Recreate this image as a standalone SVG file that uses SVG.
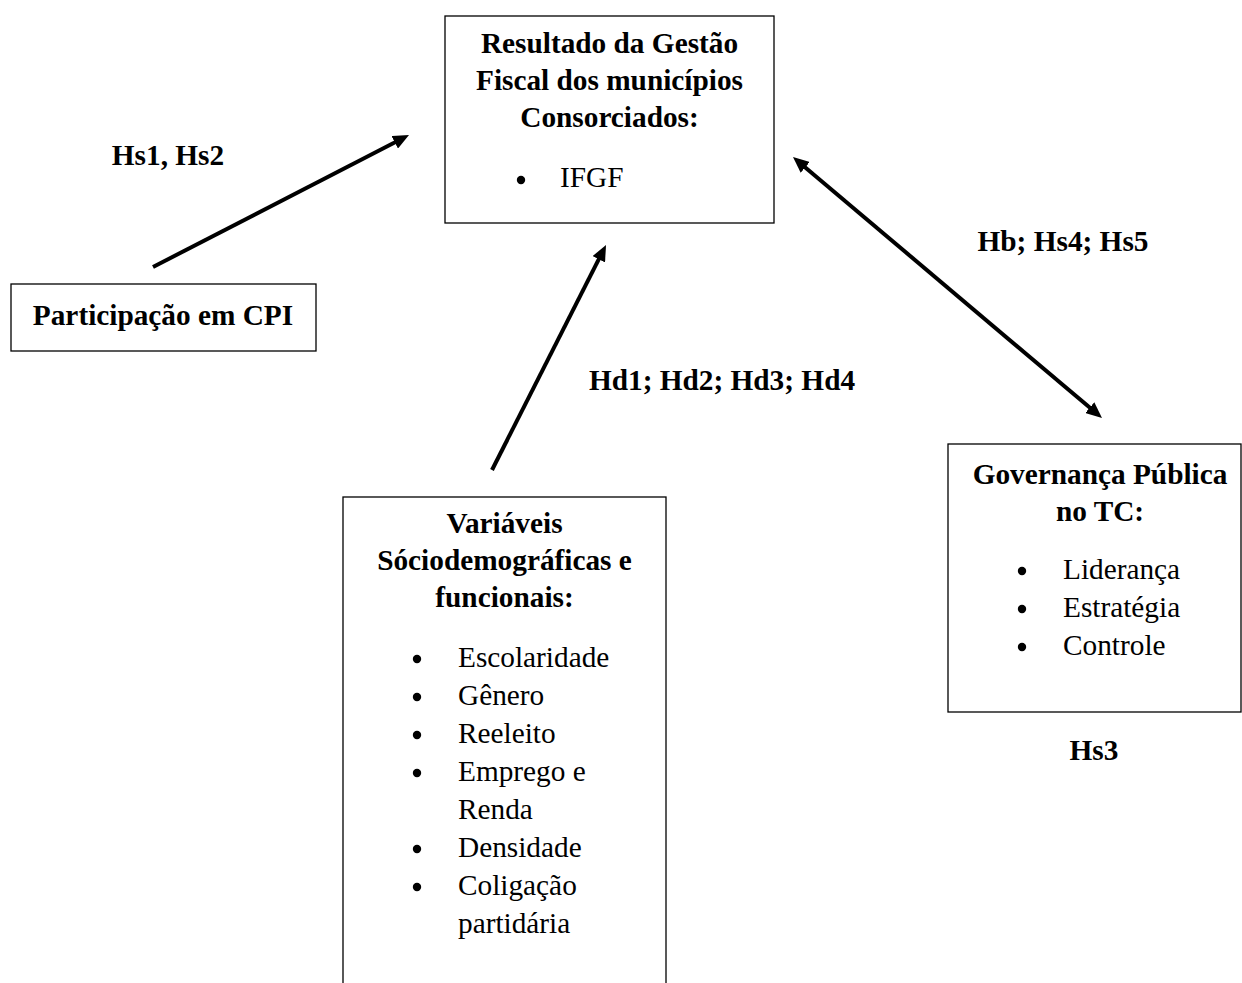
<svg xmlns="http://www.w3.org/2000/svg" width="1242" height="983" viewBox="0 0 1242 983">
  <style>
    .box { fill: #ffffff; stroke: #000000; stroke-width: 1.3; }
    .title { font-family: "Liberation Serif", "Times New Roman", serif; font-size: 29.3px; font-weight: bold; fill: #000000; text-anchor: middle; }
    .item { font-family: "Liberation Serif", "Times New Roman", serif; font-size: 29.3px; fill: #000000; }
    .label { font-family: "Liberation Serif", "Times New Roman", serif; font-size: 29.3px; font-weight: bold; fill: #000000; text-anchor: middle; }
    .bullet { fill: #000000; }
    .conn { stroke: #000000; stroke-width: 4; fill: none; }
  </style>
  <defs>
    <marker id="head" markerUnits="userSpaceOnUse" markerWidth="16" markerHeight="14" refX="8" refY="7" orient="auto-start-reverse">
      <path d="M0,0 L16,7 L0,14 Z" fill="#000000"/>
    </marker>
  </defs>
  <rect width="1242" height="983" fill="#ffffff"/>

  <!-- connectors -->
  <g id="connectors">
    <line class="conn" x1="153" y1="267" x2="401.9" y2="138.7" marker-end="url(#head)"/>
    <line class="conn" x1="492" y1="470" x2="602.4" y2="252.1" marker-end="url(#head)"/>
    <line class="conn" x1="799.1" y1="162.2" x2="1095.9" y2="412.8" marker-start="url(#head)" marker-end="url(#head)"/>
  </g>

  <!-- edge labels -->
  <g id="labels">
    <text class="label" x="168" y="165">Hs1, Hs2</text>
    <text class="label" x="1063" y="251">Hb; Hs4; Hs5</text>
    <text class="label" x="722" y="390">Hd1; Hd2; Hd3; Hd4</text>
    <text class="label" x="1094" y="760">Hs3</text>
  </g>

  <!-- fiscal result node -->
  <g id="resultado">
    <rect class="box" x="445" y="16" width="329" height="207"/>
    <text class="title" x="609.5" y="53">Resultado da Gestão</text>
    <text class="title" x="609.5" y="90">Fiscal dos municípios</text>
    <text class="title" x="609.5" y="127">Consorciados:</text>
    <circle class="bullet" cx="521" cy="180" r="4.2"/>
    <text class="item" x="560" y="187">IFGF</text>
  </g>

  <!-- CPI participation node -->
  <g id="participacao">
    <rect class="box" x="11" y="284" width="305" height="67"/>
    <text class="title" x="163" y="325">Participação em CPI</text>
  </g>

  <!-- socio-demographic variables node -->
  <g id="variaveis">
    <rect class="box" x="343" y="497" width="323" height="500"/>
    <text class="title" x="504.5" y="533">Variáveis</text>
    <text class="title" x="504.5" y="570">Sóciodemográficas e</text>
    <text class="title" x="504.5" y="607">funcionais:</text>
    <circle class="bullet" cx="417" cy="659" r="4.2"/>
    <text class="item" x="458" y="667">Escolaridade</text>
    <circle class="bullet" cx="417" cy="697" r="4.2"/>
    <text class="item" x="458" y="705">Gênero</text>
    <circle class="bullet" cx="417" cy="735" r="4.2"/>
    <text class="item" x="458" y="743">Reeleito</text>
    <circle class="bullet" cx="417" cy="773" r="4.2"/>
    <text class="item" x="458" y="781">Emprego e</text>
    <text class="item" x="458" y="819">Renda</text>
    <circle class="bullet" cx="417" cy="849" r="4.2"/>
    <text class="item" x="458" y="857">Densidade</text>
    <circle class="bullet" cx="417" cy="887" r="4.2"/>
    <text class="item" x="458" y="895">Coligação</text>
    <text class="item" x="458" y="933">partidária</text>
  </g>

  <!-- public governance node -->
  <g id="governanca">
    <rect class="box" x="948" y="444" width="293" height="268"/>
    <text class="title" x="1100" y="484">Governança Pública</text>
    <text class="title" x="1100" y="521">no TC:</text>
    <circle class="bullet" cx="1022" cy="571" r="4.2"/>
    <text class="item" x="1063" y="579">Liderança</text>
    <circle class="bullet" cx="1022" cy="609" r="4.2"/>
    <text class="item" x="1063" y="617">Estratégia</text>
    <circle class="bullet" cx="1022" cy="647" r="4.2"/>
    <text class="item" x="1063" y="655">Controle</text>
  </g>
</svg>
